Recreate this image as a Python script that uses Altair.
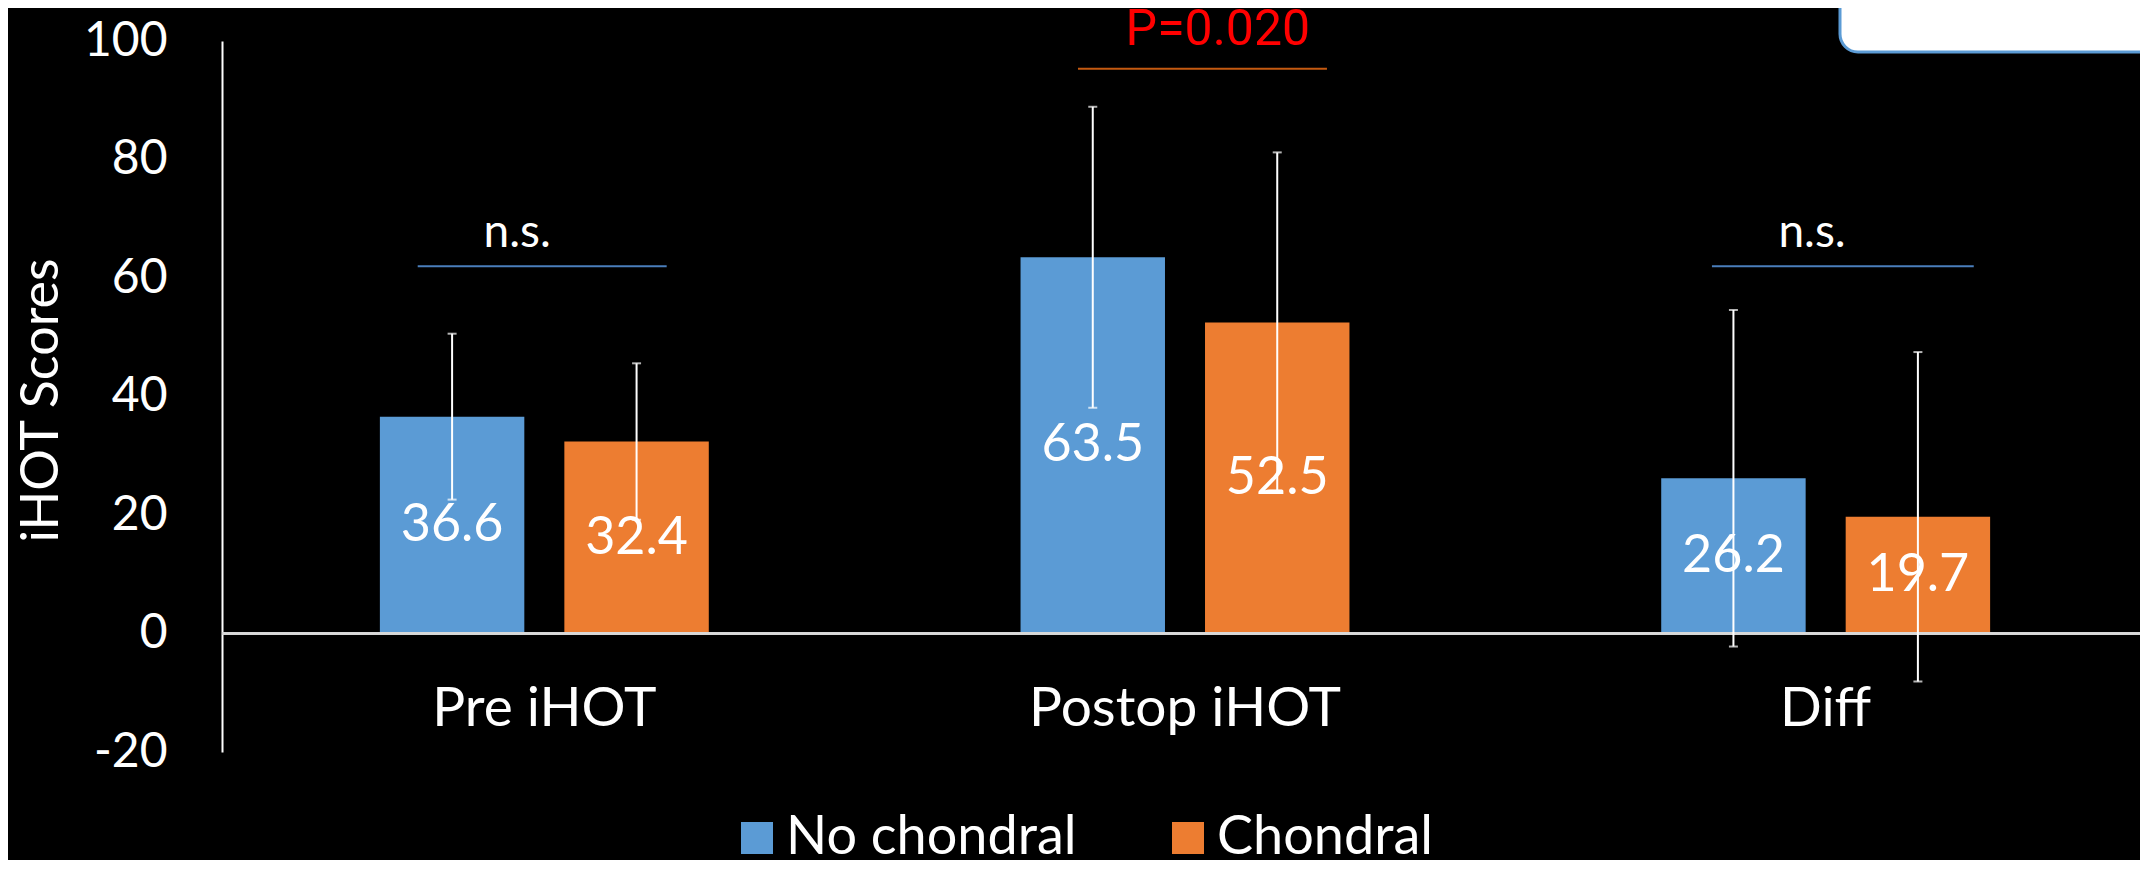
import altair as alt
import pandas as pd

# ---- data ----
categories = ["Pre iHOT", "Postop iHOT", "Diff"]
groups = ["No chondral", "Chondral"]
no_chondral_mean = [36.6, 63.5, 26.2]
chondral_mean = [32.4, 52.5, 19.7]
no_chondral_sd = [14.0, 25.4, 28.4]
chondral_sd = [13.2, 28.7, 27.8]
colors = ["#5B9BD5", "#ED7D31"]

# significance annotations (x in category units: category i spans [i, i+1])
sig_text = ["n.s.", "P=0.020", "n.s."]
sig_text_x = [0.460, 1.552, 2.478]
sig_text_y = [67.6, 101.8, 67.6]
sig_line_start = [0.305, 1.334, 2.322]
sig_line_end = [0.693, 1.722, 2.730]
sig_line_y = [62.0, 95.3, 62.0]
sig_line_color = ["#4A7EBB", "#C55A11", "#4A7EBB"]

y_ticks = [-20, 0, 20, 40, 60, 80, 100]

rows = []
for i, c in enumerate(categories):
    rows.append({"category": c, "group": groups[0], "mean": no_chondral_mean[i], "sd": no_chondral_sd[i]})
    rows.append({"category": c, "group": groups[1], "mean": chondral_mean[i], "sd": chondral_sd[i]})
df = pd.DataFrame(rows)

sig_df = pd.DataFrame({
    "label": sig_text, "tx": sig_text_x, "ty": sig_text_y,
    "x1": sig_line_start, "x2": sig_line_end, "ly": sig_line_y, "lc": sig_line_color,
})

W, H = 1918, 711
FONT = "Lato"
X_RANGE = [2, 1924]  # the slide's category area runs past the right edge

x_enc = alt.X("category:N", sort=categories,
              scale=alt.Scale(paddingInner=0, paddingOuter=0, range=X_RANGE),
              axis=alt.Axis(title=None, domain=False, ticks=False, labelAngle=0,
                            labelFontSize=55, labelColor="white", labelFont=FONT,
                            labelBaseline="middle", labelPadding=-44, labelLimit=0))
xo_enc = alt.XOffset("group:N", sort=groups,
                     scale=alt.Scale(paddingInner=0.217, paddingOuter=0.845))
y_scale = alt.Scale(domain=[-20, 100], nice=False, zero=False)

base = alt.Chart(df).transform_calculate(
    lo="datum.mean - datum.sd", hi="datum.mean + datum.sd", mid="datum.mean / 2"
)

bars = base.mark_bar().encode(
    x=x_enc,
    xOffset=xo_enc,
    y=alt.Y("mean:Q", scale=y_scale,
            axis=alt.Axis(values=y_ticks, grid=False, ticks=False, domainColor="white",
                          domainWidth=2, labelColor="white", labelFontSize=48,
                          labelFont=FONT, labelPadding=55,
                          labelExpr="datum.value < 0 ? '-' + toString(-datum.value) : toString(datum.value)",
                          title="iHOT Scores",
                          titleColor="white", titleFontSize=52, titleFont=FONT,
                          titleFontWeight="normal", titleAngle=-90, titleX=-181,
                          titleY=359, titleAlign="center", titleBaseline="middle")),
    color=alt.Color("group:N", scale=alt.Scale(domain=groups, range=colors),
                    legend=alt.Legend(title=None, orient="none", legendX=508, legendY=770,
                                      direction="horizontal", symbolType="square",
                                      symbolSize=1024, symbolStrokeWidth=0,
                                      labelFontSize=54, labelColor="white", labelFont=FONT,
                                      labelOffset=2, columnPadding=84, labelLimit=0)),
)

zero_rule = alt.Chart(df).mark_rule(color="#D9D9D9", strokeWidth=2).encode(y=alt.datum(0))

labels = base.mark_text(color="white", fontSize=52, font=FONT, baseline="middle").encode(
    x=alt.X("category:N", sort=categories),
    xOffset=alt.XOffset("group:N", sort=groups),
    y=alt.Y("mid:Q"),
    text=alt.Text("mean:Q", format=".1f"),
)

err = base.mark_rule(color="white", strokeWidth=2).encode(
    x=alt.X("category:N", sort=categories),
    xOffset=alt.XOffset("group:N", sort=groups),
    y="lo:Q", y2="hi:Q",
)
cap_lo = base.mark_tick(color="white", orient="horizontal", size=9, thickness=2).encode(
    x=alt.X("category:N", sort=categories),
    xOffset=alt.XOffset("group:N", sort=groups),
    y="lo:Q",
)
cap_hi = base.mark_tick(color="white", orient="horizontal", size=9, thickness=2).encode(
    x=alt.X("category:N", sort=categories),
    xOffset=alt.XOffset("group:N", sort=groups),
    y="hi:Q",
)

main = alt.layer(bars, zero_rule, labels, err, cap_lo, cap_hi)

xq = alt.Scale(domain=[0, 3], nice=False, zero=False, range=[0, 1925])
sig_base = alt.Chart(sig_df)
sig_lines = sig_base.mark_rule(strokeWidth=2).encode(
    x=alt.X("x1:Q", scale=xq, axis=None), x2="x2:Q",
    y=alt.Y("ly:Q", scale=y_scale), color=alt.Color("lc:N", scale=None),
)
ns_text = sig_base.transform_filter("datum.label == 'n.s.'").mark_text(
    color="white", fontSize=46, font=FONT, baseline="middle"
).encode(x=alt.X("tx:Q", scale=xq, axis=None), y=alt.Y("ty:Q", scale=y_scale), text="label:N")
p_text = sig_base.transform_filter("datum.label != 'n.s.'").mark_text(
    color="#FF0000", fontSize=50, font="Roboto", baseline="middle"
).encode(x=alt.X("tx:Q", scale=xq, axis=None), y=alt.Y("ty:Q", scale=y_scale), text="label:N")

box = alt.Chart(pd.DataFrame({"k": [0]})).mark_rect(
    fill="white", stroke="#5B9BD5", strokeWidth=3, cornerRadius=18
).encode(x=alt.value(1618), x2=alt.value(1990), y=alt.value(-60), y2=alt.value(11))

annot = alt.layer(sig_lines, ns_text, p_text, box)

chart = alt.layer(main, annot).resolve_scale(x="independent").properties(
    width=W, height=H, autosize="none",
    padding={"left": 214, "top": 33, "right": 0, "bottom": 108},
    background="black",
).configure_view(stroke=None)

chart.save("out.html", embed_options={"renderer": "svg", "actions": False})
